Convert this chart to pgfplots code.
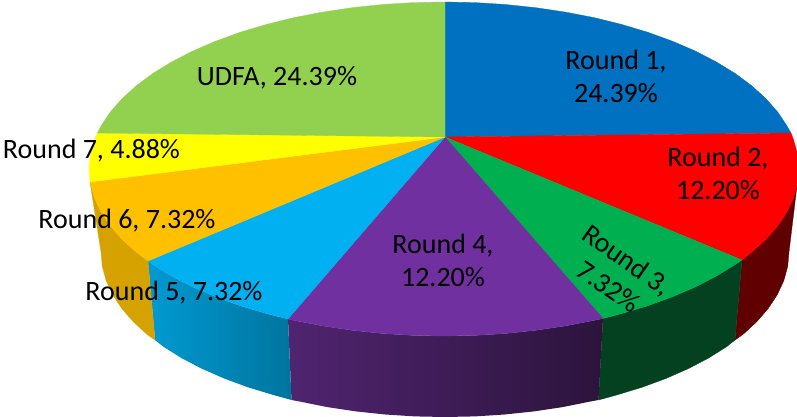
\documentclass[border=0pt]{standalone}
\usepackage{pgfplots}
\pgfplotsset{compat=1.18}
\usepackage{fontspec}
\setmainfont{Carlito}
\definecolor{c1}{HTML}{0070C0}
\definecolor{c2}{HTML}{FF0000}
\definecolor{c3}{HTML}{00B050}
\definecolor{c4}{HTML}{7030A0}
\definecolor{c5}{HTML}{00B0F0}
\definecolor{c6}{HTML}{FFC000}
\definecolor{c7}{HTML}{FFFF00}
\definecolor{c8}{HTML}{92D050}
\tikzset{lbl/.style={font=\fontsize{28}{33}\selectfont, text=black, align=center, inner sep=0pt}}
\begin{document}
\begin{tikzpicture}
\begin{axis}[
  scale only axis, width=797pt, height=417pt,
  xmin=0, xmax=797, ymin=0, ymax=417, y dir=reverse,
  hide axis, clip=true,
]
\path[use as bounding box] (axis cs:0,0) rectangle (axis cs:797,417);
% Round 2 wall
\addplot[fill={rgb,255:red,96;green,0;blue,0}, draw={rgb,255:red,96;green,0;blue,0}, line width=0.3pt] coordinates {
(742,260)(751.4,252.5)(765.7,239.6)(777.6,226.1)(786.9,212.2)(793.6,198)(797.6,183.6)(799,169)
(789,252)(787.7,266.4)(783.8,280.7)(777.3,294.7)(768.3,308.4)(756.8,321.7)(742.9,334.5)(735,340)} -- cycle;
% Round 3 wall
\addplot[fill={rgb,255:red,4;green,65;blue,32}, draw={rgb,255:red,4;green,65;blue,32}, line width=0.3pt] coordinates {
(742,260)(734.8,264.8)(715.9,276.3)(695,287.1)(672.2,296.9)(647.6,305.8)(621.5,313.6)(603,318.5)
(598.5,400)(617,394.9)(642.3,387.2)(666.1,378.4)(688.2,368.7)(708.5,358.1)(726.8,346.6)(735,340)} -- cycle;
% Round 4 wall
\addplot[draw=none, left color={rgb,255:red,80;green,36;blue,112}, right color={rgb,255:red,44;green,20;blue,60}] coordinates {
(603,318.5)(594,320.4)(565.4,325.9)(535.9,330.3)(505.6,333.5)(475,335.4)(444,336)(413,335.4)(382.4,333.5)(352.1,330.3)(322.6,325.9)(294,320.4)(288,319)
(291.5,400)(299.6,401.5)(327.3,407.1)(356,411.4)(385.3,414.5)(415,416.4)(445,417)(475,416.4)(504.7,414.5)(534,411.4)(562.7,407.1)(590.4,401.5)(598.5,400)} -- cycle;
% Round 5 wall
\addplot[draw=none, left color={rgb,255:red,0;green,154;blue,210}, right color={rgb,255:red,0;green,116;blue,158}] coordinates {
(288,319)(266.5,313.6)(240.4,305.8)(215.8,296.9)(193,287.1)(172.1,276.3)(153.2,264.8)(148,261)
(155,340)(163.2,346.6)(181.5,358.1)(201.8,368.7)(223.9,378.4)(247.7,387.2)(273,394.9)(291.5,400)} -- cycle;
% Round 6 wall
\addplot[fill={rgb,255:red,214;green,162;blue,0}, draw={rgb,255:red,214;green,162;blue,0}, line width=0.3pt] coordinates {
(148,261)(136.6,252.5)(122.3,239.6)(110.4,226.1)(101.1,212.2)(94.4,198)(90,182)
(101,252)(102.3,266.4)(106.2,280.7)(112.7,294.7)(121.7,308.4)(133.2,321.7)(147.1,334.5)(155,340)} -- cycle;
% top face: Round 1, 24.39%
\addplot[fill=c1, draw=c1, line width=0.3pt] coordinates {
(445,137)(445,2)(475,2.6)(505.6,4.5)(535.9,7.7)(565.4,12.1)(594,17.6)(621.5,24.4)(647.6,32.2)(672.2,41.1)(695,50.9)(715.9,61.7)(734.8,73.2)(751.4,85.5)(765.7,98.4)(777.6,111.9)(786.9,125.8)(791,133)} -- cycle;
% Round 2, 12.20%
\addplot[fill=c2, draw=c2, line width=0.3pt] coordinates {
(445,137)(791,133)(793.6,140)(797.6,154.4)(799,169)(797.6,183.6)(793.6,198)(786.9,212.2)(777.6,226.1)(765.7,239.6)(751.4,252.5)(742,260)} -- cycle;
% Round 3, 7.32%
\addplot[fill=c3, draw=c3, line width=0.3pt] coordinates {
(445,137)(742,260)(734.8,264.8)(715.9,276.3)(695,287.1)(672.2,296.9)(647.6,305.8)(621.5,313.6)(603,318.5)} -- cycle;
% Round 4, 12.20%
\addplot[fill=c4, draw=c4, line width=0.3pt] coordinates {
(445,137)(603,318.5)(594,320.4)(565.4,325.9)(535.9,330.3)(505.6,333.5)(475,335.4)(444,336)(413,335.4)(382.4,333.5)(352.1,330.3)(322.6,325.9)(294,320.4)(288,319)} -- cycle;
% Round 5, 7.32%
\addplot[fill=c5, draw=c5, line width=0.3pt] coordinates {
(445,137)(288,319)(266.5,313.6)(240.4,305.8)(215.8,296.9)(193,287.1)(172.1,276.3)(153.2,264.8)(148,261)} -- cycle;
% Round 6, 7.32%
\addplot[fill=c6, draw=c6, line width=0.3pt] coordinates {
(445,137)(148,261)(136.6,252.5)(122.3,239.6)(110.4,226.1)(101.1,212.2)(94.4,198)(90.4,183.6)(90,182)} -- cycle;
% Round 7, 4.88%
\addplot[fill=c7, draw=c7, line width=0.3pt] coordinates {
(445,137)(90,182)(89,169)(90.4,154.4)(94.4,140)(97.5,133)} -- cycle;
% UDFA, 24.39%
\addplot[fill=c8, draw=c8, line width=0.3pt] coordinates {
(445,137)(97.5,133)(101.1,125.8)(110.4,111.9)(122.3,98.4)(136.6,85.5)(153.2,73.2)(172.1,61.7)(193,50.9)(215.8,41.1)(240.4,32.2)(266.5,24.4)(294,17.6)(322.6,12.1)(352.1,7.7)(382.4,4.5)(413,2.6)(445,2)} -- cycle;
% labels
\node[lbl] at (axis cs:616,76.5) {Round 1,\\24.39\%};
\node[lbl] at (axis cs:718,173.5) {Round 2,\\12.20\%};
\node[lbl,rotate=-35] at (axis cs:618,273) {Round 3,\\7.32\%};
\node[lbl] at (axis cs:443,260) {Round 4,\\12.20\%};
\node[lbl] at (axis cs:174,293) {Round 5, 7.32\%};
\node[lbl] at (axis cs:127,221) {Round 6, 7.32\%};
\node[lbl] at (axis cs:91.5,151) {Round 7, 4.88\%};
\node[lbl] at (axis cs:277,78) {UDFA, 24.39\%};
\end{axis}
\end{tikzpicture}
\end{document}
